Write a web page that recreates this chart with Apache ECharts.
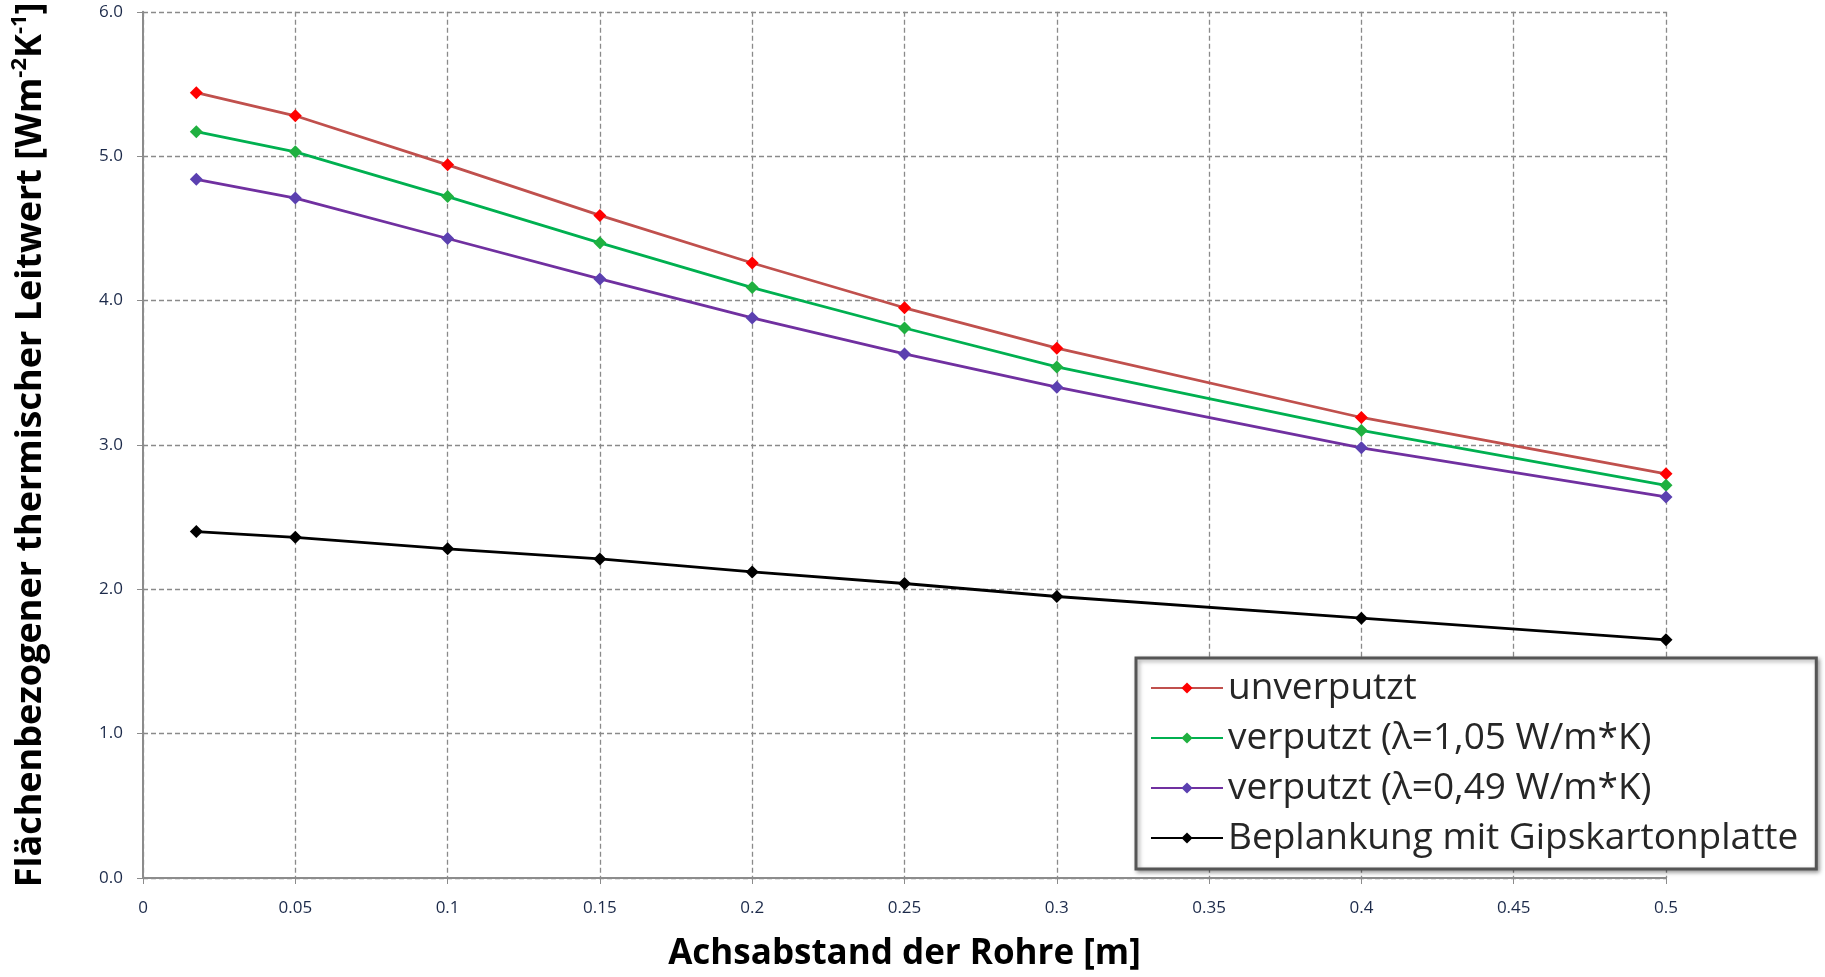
<!DOCTYPE html>
<html>
<head>
<meta charset="utf-8">
<title>Leitwert</title>
<script src="https://cdn.jsdelivr.net/npm/echarts@6/dist/echarts.min.js"></script>
<style>
html,body{margin:0;padding:0;background:#fff;}
#chart{width:1825px;height:977px;}
</style>
</head>
<body>
<div id="chart"></div>
<script>
// Achsabstand der Rohre [m]
var xValues = [0.0175, 0.05, 0.1, 0.15, 0.2, 0.25, 0.3, 0.4, 0.5];

// Leitwerte je Variante
var unverputzt = [5.44, 5.28, 4.94, 4.59, 4.26, 3.95, 3.67, 3.19, 2.80];
var verputzt105 = [5.17, 5.03, 4.72, 4.40, 4.09, 3.81, 3.54, 3.10, 2.72];
var verputzt049 = [4.84, 4.71, 4.43, 4.15, 3.88, 3.63, 3.40, 2.98, 2.64];
var gipskarton = [2.40, 2.36, 2.28, 2.21, 2.12, 2.04, 1.95, 1.80, 1.65];

var seriesNames = [
    'unverputzt',
    'verputzt (λ=1,05 W/m*K)',
    'verputzt (λ=0,49 W/m*K)',
    'Beplankung mit Gipskartonplatte'
];

var font = "'Open Sans', 'Noto Sans', sans-serif";

function pairs(ys){
    var out = [];
    for(var i=0;i<xValues.length;i++){
        out.push([xValues[i], ys[i]]);
    }
    return out;
}

function makeSeries(name, ys, lineColor, dotColor){
    return {
        name: name,
        type: 'line',
        data: pairs(ys),
        symbol: 'diamond',
        symbolSize: 13,
        showSymbol: true,
        animation: false,
        lineStyle: {color: lineColor, width: 2.8},
        itemStyle: {color: dotColor},
        emphasis: {disabled: true}
    };
}

var myChart = echarts.init(document.getElementById('chart'));

var option = {
    backgroundColor: '#fff',
    animation: false,
    grid: {left: 143, top: 11, right: 159, bottom: 98},
    legend: {
        orient: 'vertical',
        left: 1136,
        top: 658,
        padding: [10, 18, 11, 14],
        itemGap: 10,
        itemWidth: 72,
        itemHeight: 14,
        backgroundColor: '#fff',
        borderColor: '#555',
        borderWidth: 3,
        shadowColor: 'rgba(0,0,0,0.35)',
        shadowBlur: 4,
        shadowOffsetX: 2,
        shadowOffsetY: 2,
        textStyle: {fontFamily: font, fontSize: 37, lineHeight: 40, color: '#262626'},
        data: seriesNames
    },
    xAxis: {
        type: 'value',
        min: 0,
        max: 0.5,
        interval: 0.05,
        name: 'Achsabstand der Rohre [m]',
        nameLocation: 'middle',
        nameGap: 59,
        nameTextStyle: {fontFamily: font, fontSize: 35, fontWeight: 'bold', color: '#000'},
        axisLine: {lineStyle: {color: '#8c8c8c', width: 2}},
        axisTick: {show: true, length: 6, lineStyle: {color: '#8c8c8c'}},
        axisLabel: {fontFamily: font, fontSize: 17, color: '#1c2a4a', margin: 22},
        splitLine: {show: true, lineStyle: {color: '#8a8a8a', type: [5, 3], width: 1.3}}
    },
    yAxis: {
        type: 'value',
        min: 0,
        max: 6,
        interval: 1,
        name: 'Flächenbezogener thermischer Leitwert [Wm{sup|-2}K{sup|-1}]',
        nameLocation: 'middle',
        nameRotate: 90,
        nameGap: 90,
        nameTextStyle: {
            fontFamily: font, fontSize: 36, fontWeight: 'bold', color: '#000',
            rich: {
                sup: {fontFamily: font, fontSize: 22, fontWeight: 'bold', color: '#000', verticalAlign: 'top', lineHeight: 44, padding: [0, 0, 16, 0]}
            }
        },
        axisLine: {show: true, lineStyle: {color: '#8c8c8c', width: 2}},
        axisTick: {show: true, length: 6, lineStyle: {color: '#8c8c8c'}},
        axisLabel: {
            fontFamily: font, fontSize: 17, color: '#1c2a4a', margin: 20,
            formatter: function(v){ return v.toFixed(1); }
        },
        splitLine: {show: true, lineStyle: {color: '#8a8a8a', type: [5, 3], width: 1.3}}
    },
    series: [
        makeSeries(seriesNames[0], unverputzt, '#c0504d', '#ff0000'),
        makeSeries(seriesNames[1], verputzt105, '#00b050', '#20b040'),
        makeSeries(seriesNames[2], verputzt049, '#7030a0', '#5b40b0'),
        makeSeries(seriesNames[3], gipskarton, '#000000', '#000000')
    ]
};

myChart.setOption(option, true);
</script>
</body>
</html>
